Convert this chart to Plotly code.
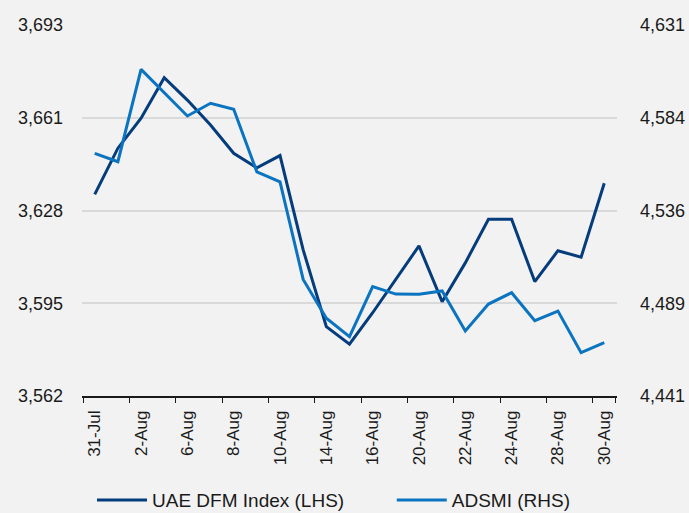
import plotly.graph_objects as go
import numpy as np

dates = ["31-Jul", "1-Aug", "2-Aug", "5-Aug", "6-Aug", "7-Aug", "8-Aug", "9-Aug",
         "10-Aug", "13-Aug", "14-Aug", "15-Aug", "16-Aug", "19-Aug", "20-Aug",
         "21-Aug", "22-Aug", "23-Aug", "24-Aug", "27-Aug", "28-Aug", "29-Aug", "30-Aug"]
dfm = [3633.2, 3649.5, 3660.1, 3674.4, 3666.5, 3657.7, 3647.7, 3642.6, 3646.9,
       3613.6, 3586.5, 3580.3, 3591.4, 3603.3, 3615.0, 3595.3, 3609.0, 3624.4,
       3624.4, 3602.4, 3613.3, 3611.0, 3637.1]
adsmi = [4565.3, 4561.0, 4608.3, 4596.2, 4584.4, 4590.9, 4587.8, 4555.8, 4550.7,
         4500.7, 4480.8, 4471.4, 4497.0, 4493.2, 4493.1, 4494.8, 4474.3, 4488.1,
         4493.9, 4479.6, 4484.5, 4463.2, 4468.3]
left_ticks = ["3,562", "3,595", "3,628", "3,661", "3,693"]
right_ticks = ["4,441", "4,489", "4,536", "4,584", "4,631"]
left_range = [3562, 3693]
right_range = [4441, 4631]

FONT = "Liberation Sans"
fig = go.Figure()
fig.add_trace(go.Scatter(x=dates, y=dfm, mode="lines", name="UAE DFM Index (LHS)",
                         line=dict(color="#053c7c", width=3), legend="legend"))
fig.add_trace(go.Scatter(x=dates, y=adsmi, mode="lines", name="ADSMI (RHS)", yaxis="y2",
                         line=dict(color="#0a74c1", width=3), legend="legend2"))

leg_common = dict(orientation="h", yref="container", y=0.025, yanchor="middle",
                  xanchor="left", font=dict(size=19), itemwidth=50,
                  bgcolor="rgba(0,0,0,0)")
fig.update_layout(
    width=689, height=513,
    margin=dict(l=82, r=72, t=25, b=117),
    paper_bgcolor="#f2f2f2", plot_bgcolor="#f2f2f2",
    font=dict(family=FONT, size=18, color="#1a1a1a"),
    showlegend=True,
    legend=dict(x=0.0187, **leg_common),
    legend2=dict(x=0.579, **leg_common),
    xaxis=dict(type="category", range=[-0.55, 22.55], showgrid=False,
               tickmode="array", tickvals=dates[::2], ticktext=dates[::2],
               tickangle=-90, showline=True, linecolor="#1a1a1a", linewidth=1.5,
               ticks="outside", tickson="boundaries", ticklen=5, tickcolor="#1a1a1a",
               tickfont=dict(size=17), ticklabelstandoff=6, automargin=False),
    yaxis=dict(range=left_range, tickmode="array",
               tickvals=list(np.linspace(left_range[0], left_range[1], 5)),
               ticktext=left_ticks, showgrid=True, gridcolor="#d9d9d9", gridwidth=1.5,
               zeroline=False, showline=False, ticklabelstandoff=18, automargin=False),
    yaxis2=dict(range=right_range, overlaying="y", side="right", tickmode="array",
                tickvals=list(np.linspace(right_range[0], right_range[1], 5)),
                ticktext=right_ticks, showgrid=False, zeroline=False, showline=False,
                ticklabelstandoff=22, automargin=False),
)
fig.write_html("out.html", config={"displayModeBar": False},
               post_script="document.body.style.margin='0px';")
